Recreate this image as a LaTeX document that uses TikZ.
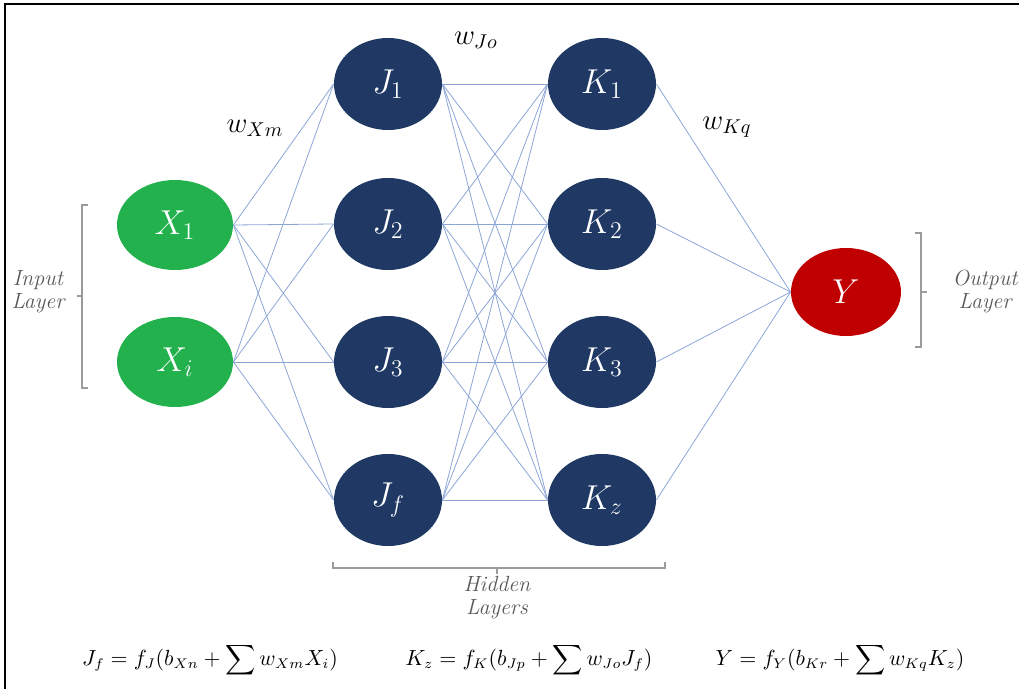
\documentclass[tikz,border=0pt]{standalone}
\usepackage{amsmath,amssymb}
\usepackage{tikz}
\usetikzlibrary{shapes.geometric}
\definecolor{inputgreen}{RGB}{34,177,76}
\definecolor{hiddenblue}{RGB}{31,56,100}
\definecolor{outputred}{RGB}{192,0,0}
\definecolor{edgeblue}{RGB}{140,165,215}
\definecolor{labelgray}{RGB}{89,89,89}

\begin{document}
\begin{tikzpicture}[x=0.5pt, y=-0.5pt,
  neuron/.style={ellipse, inner sep=0pt, text=white, font=\fontsize{17}{20}\selectfont},
  inneuron/.style={neuron, fill=inputgreen, minimum width=58pt, minimum height=45pt},
  hidneuron/.style={neuron, fill=hiddenblue, minimum width=54pt, minimum height=46pt},
  outneuron/.style={neuron, fill=outputred, minimum width=55pt, minimum height=44pt},
  link/.style={edgeblue, line width=0.4pt},
  bracket/.style={labelgray!60, line width=0.6pt},
  layerlabel/.style={labelgray, font=\fontsize{11}{11.5}\selectfont\itshape, align=center},
  weight/.style={font=\fontsize{14}{16}\selectfont},
  formula/.style={font=\fontsize{10.5}{12}\selectfont}]
  \useasboundingbox (0,0) rectangle (1019,689);
  % frame
  \draw[line width=1.2pt] (5,689) -- (5,4) -- (1019,4);

  % input layer
  \node[inneuron] (x1) at (175,225) {$X_1$};
  \node[inneuron] (x2) at (175,362) {$X_i$};
  % hidden layers
  \foreach \i/\yy/\jl/\kl in {1/84/J_1/K_1, 2/224/J_2/K_2, 3/362/J_3/K_3, 4/500/J_f/K_z}{
    \node[hidneuron] (j\i) at (388,\yy) {$\jl$};
    \node[hidneuron] (k\i) at (602,\yy) {$\kl$};
  }
  % output layer
  \node[outneuron] (y) at (846,292) {$Y$};

  % connections
  \foreach \a in {1,2}{
    \foreach \b in {1,...,4}{
      \draw[link] (x\a.east) -- (j\b.west);
    }
  }
  \foreach \a in {1,...,4}{
    \foreach \b in {1,...,4}{
      \draw[link] (j\a.east) -- (k\b.west);
    }
    \draw[link] (k\a.east) -- (y.west);
  }

  % weights
  \node[weight] (wxm) at (255,128) {$w_{Xm}$};
  \node[weight] (wjo) at (476,40) {$w_{Jo}$};
  \node[weight] (wkq) at (727,127) {$w_{Kq}$};

  % brackets
  \draw[bracket] (88,205) -- (82,205) -- (82,388) -- (88,388);
  \draw[bracket] (82,296) -- (77,296);
  \draw[bracket] (915,233) -- (921,233) -- (921,347) -- (915,347);
  \draw[bracket] (921,292) -- (927,292);
  \draw[bracket] (333,562) -- (333,568) -- (665,568) -- (665,562);
  \draw[bracket] (497,568) -- (497,574);
  \node[layerlabel] (inlab) at (38,292) {Input\\Layer};
  \node[layerlabel] (outlab) at (985,292) {Output\\Layer};
  \node[layerlabel] (hidlab) at (497,598) {Hidden\\Layers};

  % formulas
  \node[formula] (fj) at (210,660) {$J_f = f_J(b_{Xn} + \displaystyle\sum w_{Xm} X_i)$};
  \node[formula] (fk) at (529,660) {$K_z = f_K(b_{Jp} + \displaystyle\sum w_{Jo} J_f)$};
  \node[formula] (fy) at (840,660) {$Y = f_Y(b_{Kr} + \displaystyle\sum w_{Kq} K_z)$};
\end{tikzpicture}
\end{document}
